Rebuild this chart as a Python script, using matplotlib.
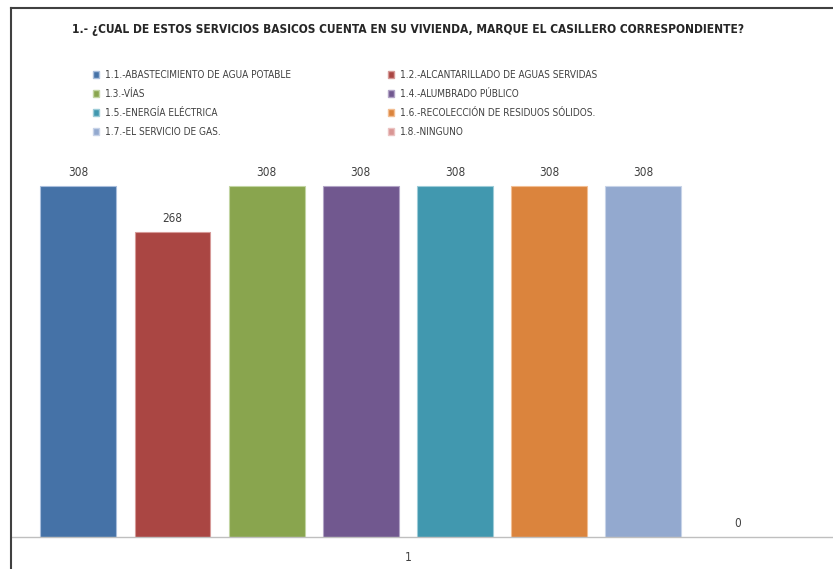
import matplotlib.pyplot as plt
from matplotlib.lines import Line2D
from matplotlib.patches import Patch

plt.rcParams['font.family'] = ['DejaVu Sans']
plt.rcParams['font.stretch'] = 'condensed'

# Datos del grafico
categories = [
    "1.1.-ABASTECIMIENTO DE AGUA POTABLE",
    "1.2.-ALCANTARILLADO DE AGUAS SERVIDAS",
    "1.3.-VÍAS",
    "1.4.-ALUMBRADO PÚBLICO",
    "1.5.-ENERGÍA ELÉCTRICA",
    "1.6.-RECOLECCIÓN DE RESIDUOS SÓLIDOS.",
    "1.7.-EL SERVICIO DE GAS.",
    "1.8.-NINGUNO",
]
values = [308, 268, 308, 308, 308, 308, 308, 0]
colors = ["#4572A7", "#AA4643", "#89A54E", "#71588F",
          "#4198AF", "#DB843D", "#93A9CF", "#D99694"]
edges = ["#A9BEDC", "#D69A98", "#C2D5A3", "#B2A4C6",
         "#9DCCD8", "#F2BE93", "#C7D3E8", "#EBC3C2"]
title = "1.- ¿CUAL DE ESTOS SERVICIOS BASICOS CUENTA EN SU VIVIENDA, MARQUE EL CASILLERO CORRESPONDIENTE?"

W, H = 833, 569
fig = plt.figure(figsize=(W / 100, H / 100), dpi=100)
ax = fig.add_axes([11 / W, 1 - 537 / H, 1 - 11 / W, (537 - 161) / H])

x = list(range(len(values)))
lws = [0.8 if v > 0 else 0 for v in values]
bars = ax.bar(x, values, width=0.806, color=colors, edgecolor=edges, linewidth=lws)

for xi, v in zip(x, values):
    ax.annotate(str(v), (xi, v), xytext=(0, 5), textcoords="offset points",
                ha="center", va="bottom", fontsize=8.5, color="#404040")

ax.set_xlim(-0.716, 8.018)
ax.set_ylim(0, 330)
ax.set_xticks([3.5])
ax.set_xticklabels(["1"], fontsize=8.5, color="#404040")
ax.tick_params(axis="x", length=0, pad=10)
ax.set_yticks([])
for s in ["top", "right", "left"]:
    ax.spines[s].set_visible(False)
ax.spines["bottom"].set_color("#BFBFBF")
ax.spines["bottom"].set_linewidth(1.0)

fig.text(408 / W, 1 - 30 / H, title, ha="center", va="center",
         fontsize=8.6, fontweight="bold", color="#262626")

# leyenda en dos columnas
order = [0, 2, 4, 6, 1, 3, 5, 7]
handles = [Patch(facecolor=colors[i], edgecolor=edges[i]) for i in order]
labels = [categories[i] for i in order]
fig.legend(handles, labels, ncol=2, loc="upper left",
           bbox_to_anchor=(84 / W, 1 - 61 / H), frameon=False,
           fontsize=7.2, handlelength=0.6, handleheight=0.6,
           handletextpad=0.6, labelspacing=0.9, columnspacing=9.7,
           labelcolor="#404040")

# borde del area del grafico
fig.add_artist(Line2D([10.5 / W, 1], [1 - 7.5 / H, 1 - 7.5 / H], color="#404040", lw=1.5))
fig.add_artist(Line2D([10.5 / W, 10.5 / W], [0, 1 - 7.5 / H], color="#404040", lw=1.5))

fig.savefig("out.png", dpi=100)
